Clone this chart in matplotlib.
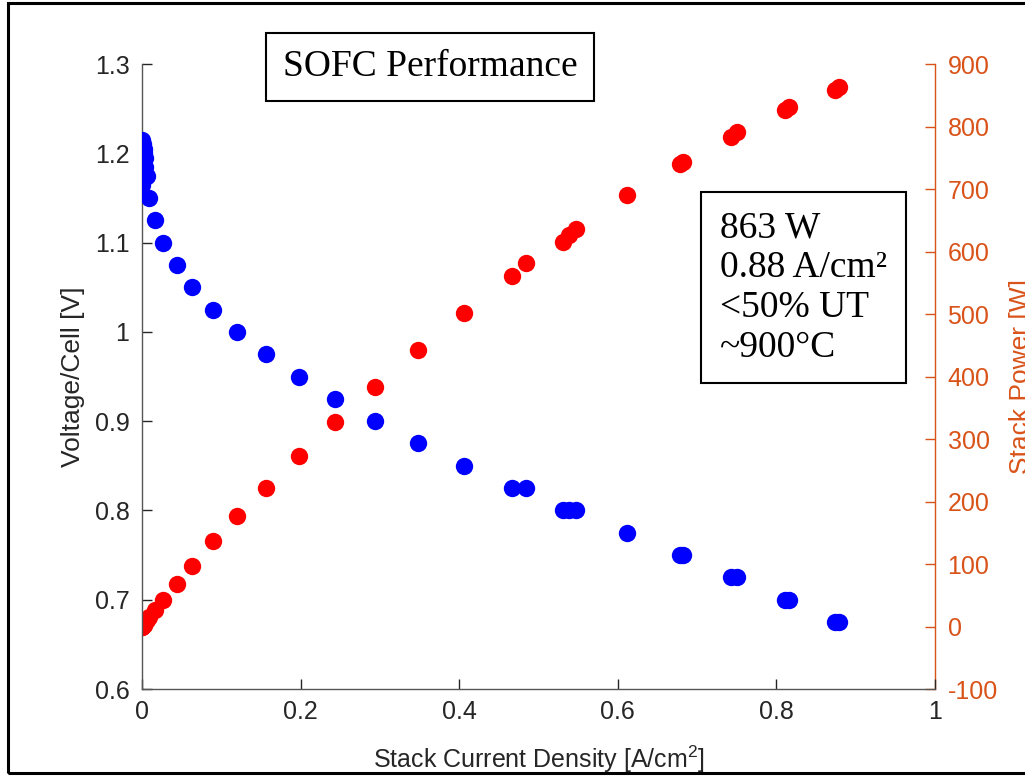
import matplotlib
matplotlib.use("Agg")
import matplotlib.pyplot as plt
from matplotlib.patches import Rectangle

# ── data ────────────────────────────────────────────────────────────────────
current = [0.000, 0.000, 0.001, 0.001, 0.002, 0.002, 0.003, 0.004, 0.004,
           0.006, 0.009, 0.016, 0.026, 0.044, 0.063, 0.090, 0.120, 0.156,
           0.198, 0.243, 0.294, 0.348, 0.406, 0.467, 0.484, 0.531, 0.539,
           0.547, 0.612, 0.678, 0.682, 0.743, 0.750, 0.811, 0.816, 0.874,
           0.879]
voltage = [1.215, 1.165, 1.210, 1.170, 1.205, 1.180, 1.200, 1.195, 1.185,
           1.175, 1.150, 1.125, 1.100, 1.075, 1.050, 1.025, 1.000, 0.975,
           0.950, 0.925, 0.900, 0.875, 0.850, 0.825, 0.825, 0.800, 0.800,
           0.800, 0.775, 0.750, 0.750, 0.725, 0.725, 0.700, 0.700, 0.675,
           0.675]
power = [0, 0, 2, 2, 3, 3, 5, 7, 7,
         10, 15, 26, 43, 68, 97, 137, 177, 222,
         273, 327, 384, 442, 502, 561, 581, 616, 626,
         636, 690, 740, 744, 784, 791, 826, 831, 859,
         863]

x_ticks = [0, 0.2, 0.4, 0.6, 0.8, 1]
v_ticks = [0.6, 0.7, 0.8, 0.9, 1.0, 1.1, 1.2, 1.3]
p_ticks = list(range(-100, 1000, 100))

AX_GRAY = "#262626"
ORANGE = "#D95319"

plt.rcParams["font.family"] = ["Liberation Sans", "DejaVu Sans"]
plt.rcParams["mathtext.fontset"] = "custom"
plt.rcParams["mathtext.rm"] = "Liberation Sans"
plt.rcParams["axes.unicode_minus"] = False

fig = plt.figure(figsize=(10.25, 7.76), dpi=100)
ax = fig.add_axes([0.1385, 0.1121, 0.7737, 0.8054])
ax2 = ax.twinx()

ax.plot(current, voltage, "o", color="#0000FF", ms=12.5, mec="none", zorder=3)
ax2.plot(current, power, "o", color="#FF0000", ms=12.5, mec="none", zorder=2)
ax.set_zorder(ax2.get_zorder() + 1)
ax.patch.set_visible(False)

ax.set_xlim(0, 1)
ax.set_ylim(0.6, 1.3)
ax2.set_ylim(-100, 900)
ax.set_xticks(x_ticks)
ax.set_xticklabels(["0", "0.2", "0.4", "0.6", "0.8", "1"])
ax.set_yticks(v_ticks)
ax.set_yticklabels(["0.6", "0.7", "0.8", "0.9", "1", "1.1", "1.2", "1.3"])
ax2.set_yticks(p_ticks)

for a in (ax, ax2):
    a.spines["top"].set_visible(False)
ax.spines["right"].set_visible(False)
ax2.spines["left"].set_visible(False)
ax2.spines["bottom"].set_visible(False)
for s in ("left", "bottom"):
    ax.spines[s].set_color("#555555")
    ax.spines[s].set_linewidth(1.0)
ax2.spines["right"].set_color(ORANGE)
ax2.spines["right"].set_linewidth(1.0)

ax.tick_params(axis="both", direction="in", length=7, width=1,
               colors=AX_GRAY, labelsize=18, pad=8)
ax.tick_params(axis="y", pad=9)
ax2.tick_params(axis="y", direction="in", length=7, width=1,
                colors=ORANGE, labelsize=18, pad=9)

ax.set_xlabel("Stack Current Density [A/cm$^2$]", fontsize=18,
              color=AX_GRAY, labelpad=14)
ax.set_ylabel("Voltage/Cell [V]", fontsize=19, color=AX_GRAY, labelpad=7)
ax2.set_ylabel("Stack Power [W]", fontsize=19, color=ORANGE, labelpad=8)

# text boxes
ax.text(0.363, 0.995, "SOFC Performance", transform=ax.transAxes,
        family="Liberation Serif", fontsize=27, ha="center", va="center",
        bbox=dict(boxstyle="square,pad=0.45", fc="white", ec="black", lw=1.5))
ax.text(0.834, 0.642, "863 W\n0.88 A/cm²\n<50% UT\n~900°C",
        transform=ax.transAxes, family="Liberation Serif", fontsize=27,
        ha="center", va="center", multialignment="left", linespacing=1.2,
        bbox=dict(boxstyle="square,pad=0.5", fc="white", ec="black", lw=1.5))

# outer frame
fig.patches.append(Rectangle((8 / 1025, 3 / 776), 1.1, 770 / 776,
                             transform=fig.transFigure, fill=False,
                             ec="black", lw=2.2, clip_on=False))

fig.savefig("out.png", dpi=100)
